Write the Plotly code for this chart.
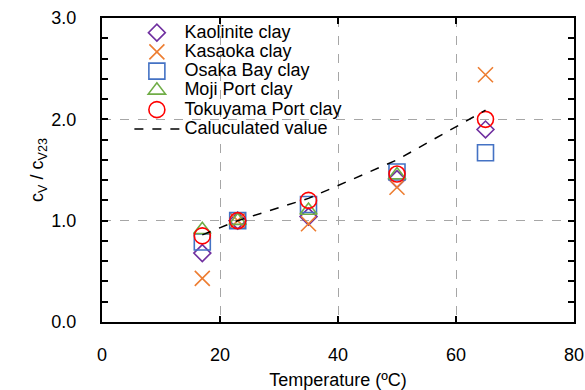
import plotly.graph_objects as go

temps = [17, 23, 35, 50, 65]
kaolinite = [0.68, 1.00, 1.04, 1.41, 1.90]
kasaoka = [0.43, 1.00, 0.97, 1.33, 2.44]
osaka_bay = [0.79, 1.00, 1.16, 1.48, 1.67]
moji_temps = [17, 23, 35, 50]
moji_port = [0.91, 1.00, 1.10, 1.45]
tokuyama = [0.85, 1.00, 1.20, 1.46, 2.00]
calc_temps = [17, 23, 35, 50, 65]
calc_values = [0.86, 1.00, 1.22, 1.60, 2.09]

x_ticks = [0, 20, 40, 60, 80]
y_ticks = [0, 1, 2, 3]
y_tick_labels = ["0.0", "1.0", "2.0", "3.0"]

FONT = "Liberation Sans, Arial, sans-serif"


def big(label):
    return '<span style="font-size:18px">' + label + '</span>'


fig = go.Figure()

series = [
    ("Kaolinite clay", temps, kaolinite, "diamond-open", "#7030A0", 13),
    ("Kasaoka clay", temps, kasaoka, "x-thin-open", "#ED7D31", 15),
    ("Osaka Bay clay", temps, osaka_bay, "square-open", "#4472C4", 16),
    ("Moji Port clay", moji_temps, moji_port, "triangle-up-open", "#70AD47", 15),
    ("Tokuyama Port clay", temps, tokuyama, "circle-open", "#FF0000", 16),
]
for name, xs, ys, sym, col, sz in series:
    fig.add_trace(go.Scatter(
        x=xs, y=ys, mode="markers", name=big(name),
        marker=dict(symbol=sym, size=sz, color=col, line=dict(color=col, width=1.6)),
    ))

fig.add_trace(go.Scatter(
    x=calc_temps, y=calc_values, mode="lines", name=big("Caluculated value"),
    line=dict(color="black", width=1.5, dash="dash"),
))

axis_common = dict(
    showline=True, linecolor="black", linewidth=2, mirror="ticks",
    ticks="inside", tickcolor="black", ticklen=6, tickwidth=1.5,
    showgrid=True, gridcolor="#A6A6A6", griddash="dash", gridwidth=1.2,
    zeroline=False, automargin=False,
    tickfont=dict(family=FONT, size=18, color="black"),
)

fig.update_xaxes(
    range=[0, 80], tickvals=x_ticks, ticklabelstandoff=15,
    title=dict(text="Temperature (ºC)", font=dict(family=FONT, size=18, color="black"), standoff=10),
    **axis_common,
)
fig.update_yaxes(
    range=[0, 3], tickvals=y_ticks, ticktext=y_tick_labels, ticklabelstandoff=20,
    minor=dict(ticks="inside", tickvals=[0.2 * i for i in range(16)], ticklen=6, tickcolor="black", tickwidth=1.5, showgrid=False),
    title=dict(text="c<sub>V</sub> / c<sub>V23</sub>", font=dict(family=FONT, size=18, color="black"), standoff=3),
    **axis_common,
)

fig.update_layout(
    width=585, height=390,
    margin=dict(l=102, r=11, t=18, b=68),
    plot_bgcolor="white", paper_bgcolor="white",
    font=dict(family=FONT, size=18, color="black"),
    showlegend=True,
    legend=dict(
        x=0.058, y=1.0, xanchor="left", yanchor="top",
        bgcolor="rgba(0,0,0,0)", borderwidth=0,
        font=dict(family=FONT, size=12.5, color="black"),
        tracegroupgap=0, itemwidth=45,
    ),
)

fig.write_html(
    "out.html",
    config={"displayModeBar": False},
    post_script="document.body.style.margin='0';document.body.style.overflow='hidden';",
)
